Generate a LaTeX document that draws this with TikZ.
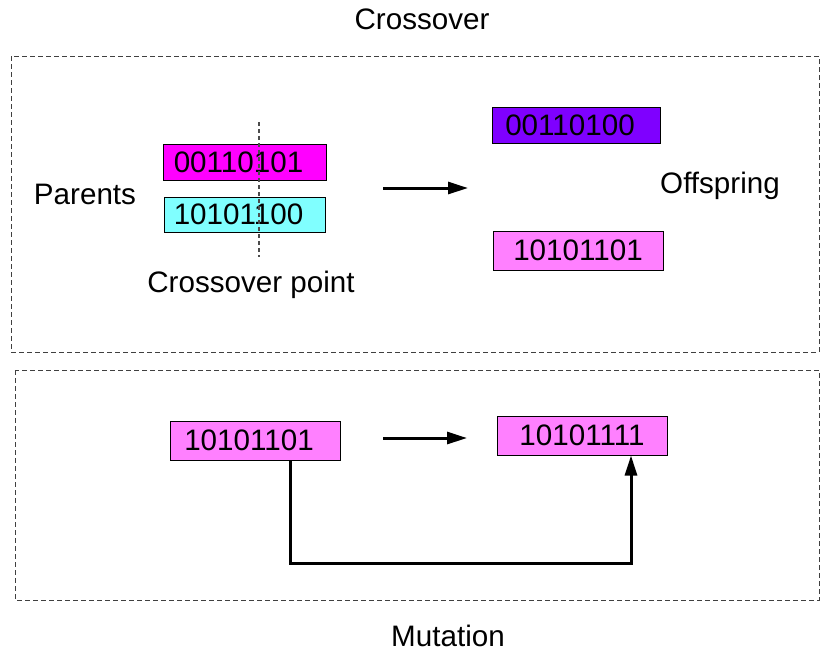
\documentclass[tikz,border=0pt]{standalone}
\usepackage{fontspec}
\setmainfont{Liberation Sans}
\usetikzlibrary{arrows.meta}
\begin{document}
\begin{tikzpicture}[x=0.5pt,y=-0.5pt,
  every node/.style={font=\fontsize{14.8}{17}\selectfont, inner sep=0pt},
  chrom/.style={draw=black, line width=0.5pt, inner sep=0pt},
  frame/.style={draw=black!75, dash pattern=on 2.5pt off 1.5pt, line width=0.5pt},
  flow/.style={line width=1.5pt, -{Triangle[length=10pt,width=6pt]}},
  cut/.style={draw=black!70, dash pattern=on 2pt off 1.5pt, line width=0.6pt}]
\useasboundingbox (0,0) rectangle (820,650);

% titles and frames
\node (title) at (422,19) {Crossover};
\node (mtitle) at (448,636) {Mutation};
\draw[frame] (11,56) rectangle (819,352);
\draw[frame] (15,370) rectangle (819,600);

% crossover: parents
\node[chrom, fill={rgb,255:red,255;green,0;blue,255}, minimum width=81.5pt, minimum height=18pt] (p1) at (244.5,162.5) {\hspace*{-6pt}00110101};
\node[chrom, fill={rgb,255:red,128;green,255;blue,255}, minimum width=80.5pt, minimum height=17.5pt] (p2) at (244.5,214.5) {\hspace*{-6pt}10101100};
\coordinate (cuttop) at (259,122);
\coordinate (cutbot) at (259,257);
\draw[cut] (cuttop) -- (cutbot);
\node (parents) at (85,194) {Parents};
\node (cpoint) at (251,285) {Crossover point};

% crossover: arrow and offspring
\coordinate (xa) at (383,188);
\coordinate (xb) at (468,188);
\draw[flow] (xa) -- (xb);
\node[chrom, fill={rgb,255:red,127;green,0;blue,255}, minimum width=84pt, minimum height=18pt] (o1) at (576,125) {\hspace*{-6pt}00110100};
\node[chrom, fill={rgb,255:red,255;green,128;blue,255}, minimum width=85pt, minimum height=19.5pt] (o2) at (578,250.5) {10101101};
\node (offspring) at (720,186) {Offspring};

% mutation
\node[chrom, fill={rgb,255:red,255;green,128;blue,255}, minimum width=85pt, minimum height=19.5pt] (m1) at (255,440.5) {\hspace*{-6pt}10101101};
\node[chrom, fill={rgb,255:red,255;green,128;blue,255}, minimum width=85pt, minimum height=19.5pt] (m2) at (582,435.5) {10101111};
\coordinate (ma) at (383,438);
\coordinate (mb) at (467,438);
\draw[flow] (ma) -- (mb);
\draw[line width=1.5pt, -{Triangle[length=10pt,width=6pt]}]
  ([xshift=17.5pt]m1.south) -- ++(0,103) -| ([xshift=24.5pt]m2.south);
\end{tikzpicture}
\end{document}
